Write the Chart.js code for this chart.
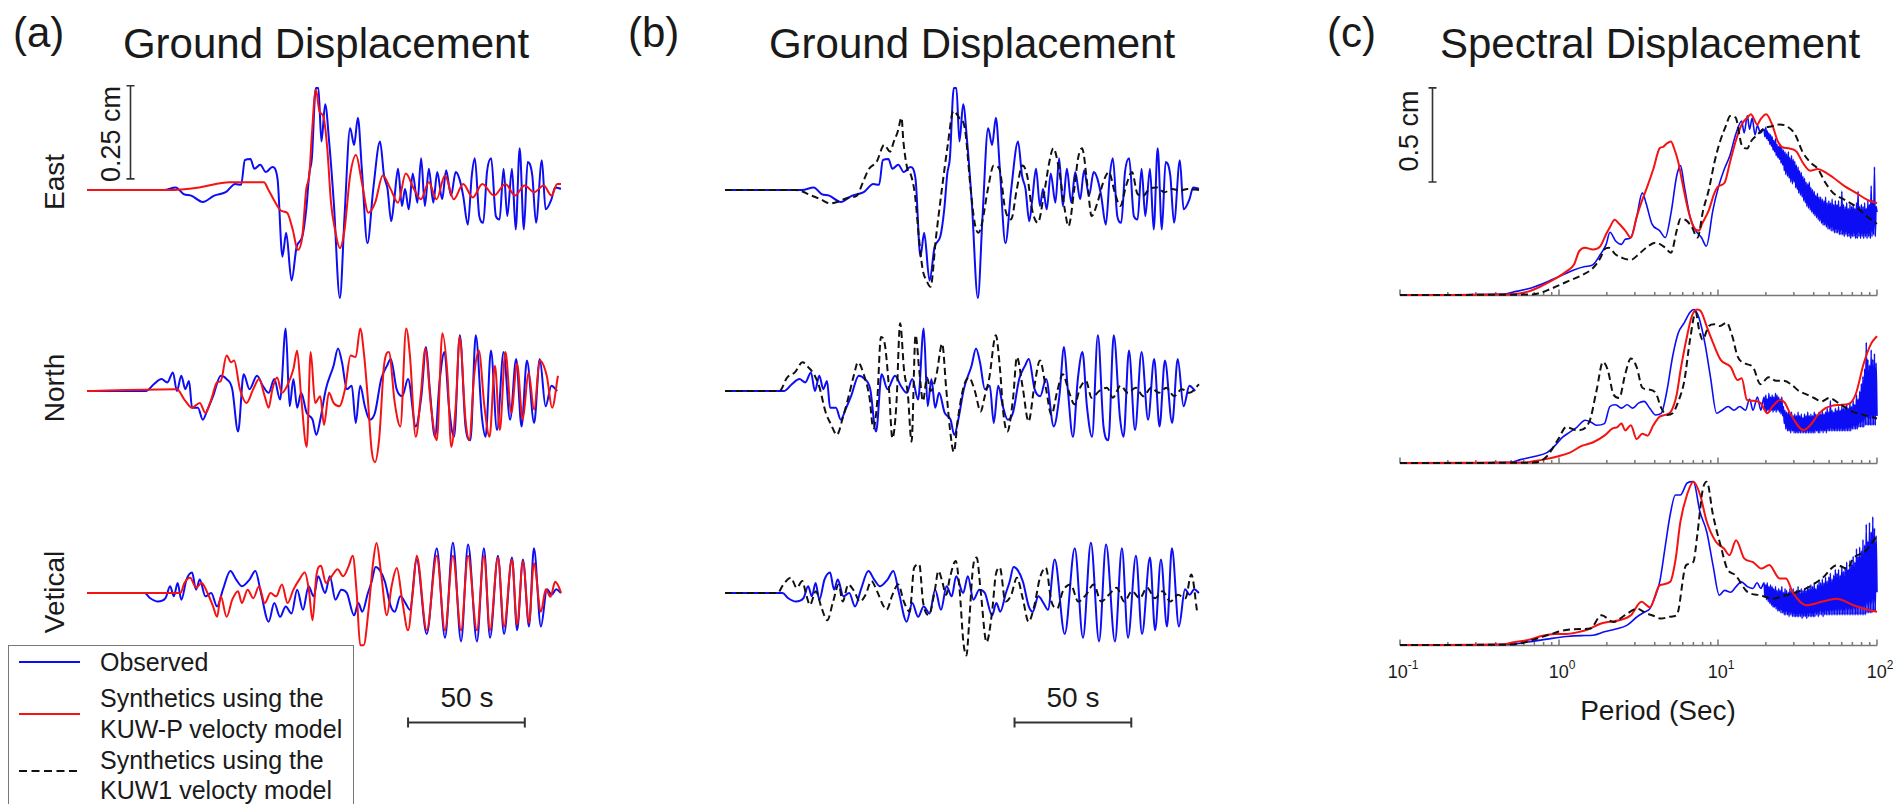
<!DOCTYPE html>
<html>
<head>
<meta charset="utf-8">
<script src="https://cdn.jsdelivr.net/npm/chart.js@4.4.1/dist/chart.umd.min.js"></script>
<style>
  body { margin: 0; background: #fff; font-family: "Liberation Sans", Arial, Helvetica, sans-serif; color: #1a1a1a; }
  #fig { position: relative; width: 1895px; height: 804px; overflow: hidden; background: #fff; }
  canvas { position: absolute; }
  .t { position: absolute; white-space: nowrap; line-height: 1; }
  .c { transform: translate(-50%, -50%); }
  .r { transform: translate(-50%, -50%) rotate(-90deg); }
  .l { transform: translateY(-50%); }
  .tick sup { font-size: 12px; position: relative; top: -2px; }
  #legend { position: absolute; left: 8px; top: 645px; width: 346px; height: 170px; border: 1.5px solid #777; box-sizing: border-box; }
</style>
</head>
<body>
<div id="fig">
  <div class="t" style="left:13px;top:12px;font-size:42px">(a)</div>
  <div class="t" style="left:628px;top:12px;font-size:42px">(b)</div>
  <div class="t" style="left:1327px;top:12px;font-size:42px">(c)</div>
  <div class="t c" style="left:326px;top:44px;font-size:42px">Ground Displacement</div>
  <div class="t c" style="left:972px;top:44px;font-size:42px">Ground Displacement</div>
  <div class="t c" style="left:1650px;top:44px;font-size:42px">Spectral Displacement</div>

  <div class="t r" style="left:55px;top:182px;font-size:28px">East</div>
  <div class="t r" style="left:55px;top:388px;font-size:28px">North</div>
  <div class="t r" style="left:55px;top:592px;font-size:28px">Vetical</div>

  <div class="t r" style="left:111px;top:134px;font-size:27px">0.25 cm</div>
  <div class="t r" style="left:1409px;top:131px;font-size:27px">0.5 cm</div>
  <div class="t c" style="left:467px;top:698px;font-size:28px">50 s</div>
  <div class="t c" style="left:1073px;top:698px;font-size:28px">50 s</div>
  <div class="t c" style="left:1658px;top:711px;font-size:28px">Period (Sec)</div>

  <div id="legend"></div>
  <svg style="position:absolute;left:0;top:0" width="400" height="804">
    <line x1="19" y1="662" x2="80" y2="662" stroke="rgb(12,12,245)" stroke-width="2"/>
    <line x1="19" y1="714" x2="80" y2="714" stroke="rgb(245,18,18)" stroke-width="2"/>
    <line x1="19" y1="771" x2="80" y2="771" stroke="#111" stroke-width="2" stroke-dasharray="8 4.5"/>
  </svg>
  <div class="t l" style="left:100px;top:662px;font-size:25px">Observed</div>
  <div class="t l" style="left:100px;top:698px;font-size:25px">Synthetics using the</div>
  <div class="t l" style="left:100px;top:729px;font-size:25px">KUW-P velocty model</div>
  <div class="t l" style="left:100px;top:760px;font-size:25px">Synthetics using the</div>
  <div class="t l" style="left:100px;top:790px;font-size:25px">KUW1 velocty model</div>
</div>

<script>
// ground displacement: [time (s), displacement (cm)]
var eastObs = [[0,0],[33,0],[38,0.007],[41.4,-0.011],[44.6,-0.015],[49.6,-0.032],[54.5,-0.015],[59.4,-0.006],[63.5,0.016],[66,0.014],[67.6,0.08],[70,0.083],[71.7,0.057],[74.2,0.068],[76.6,0.048],[79.4,0.062],[81.6,0.03],[83.7,-0.179],[85.3,-0.115],[87.6,-0.243],[89.8,-0.152],[92.2,-0.125],[93.9,-0.052],[95.2,0.044],[96.3,0.085],[98,0.274],[99.1,0.274],[100.4,0.13],[102,0.23],[103.7,0.13],[105.7,-0.034],[108.3,-0.29],[110.3,-0.07],[112.7,0.166],[114.4,0.121],[116,0.194],[117.7,0.057],[120.1,-0.143],[122.6,0.003],[125.5,0.13],[127.2,0.039],[128.7,0.003],[130.3,-0.084],[131.6,-0.025],[133.2,0.057],[134.9,-0.043],[136.2,0.003],[137.8,-0.052],[139.5,0.044],[141.5,-0.034],[143.1,0.085],[144.7,-0.043],[146.4,0.057],[148.3,-0.034],[150,0.048],[152.1,-0.025],[153.8,0.053],[155.9,-0.015],[157.9,0.048],[159.5,0.03],[161.1,-0.015],[163.1,-0.093],[164.8,0.039],[166.1,0.085],[168,-0.07],[169.7,-0.088],[171.3,0.048],[173.1,0.085],[175.1,-0.07],[176.7,-0.079],[178.4,0.057],[180,-0.07],[182,0.057],[183.6,-0.106],[185.3,0.112],[187.1,-0.106],[188.7,0.075],[190.7,0.039],[192.3,-0.088],[194.8,0.08],[196.4,-0.052],[198.9,-0.025],[200.5,0.007],[203,0.003]];
var eastKuwP = [[0,0],[35,0],[48,0.007],[61,0.021],[75.8,0.021],[77.5,0.003],[80.7,-0.034],[83.2,-0.056],[85.7,-0.061],[88.1,-0.106],[90.3,-0.161],[92.2,-0.125],[93.9,0.003],[95.2,0.039],[96.3,0.148],[98,0.27],[99.6,0.21],[101.2,0.198],[102.9,0.112],[104.5,-0.034],[106.2,-0.106],[108.3,-0.156],[110.3,-0.106],[112.7,0.039],[115.2,0.094],[117.7,0.021],[120.5,-0.061],[123.4,-0.034],[126.7,0.039],[130,0.003],[133.2,-0.034],[136.5,0.044],[140,0.003],[143,-0.025],[146.4,0.021],[149.7,-0.025],[153.3,0.039],[157.1,-0.025],[161.1,0.016],[165.2,-0.02],[169.3,0.016],[174.3,-0.015],[179.2,0.016],[183.3,-0.015],[187.4,0.012],[191.5,-0.006],[195.6,0.012],[198.9,-0.015],[201.4,0.016],[203,0.016]];
var eastKuw1 = [[0,0],[30.4,0],[37,-0.015],[41,-0.025],[45,-0.036],[49,-0.03],[53,-0.02],[56.5,-0.015],[59,0.02],[61.7,0.057],[64.9,0.075],[68.2,0.121],[70.7,0.103],[72.3,0.13],[74,0.157],[75.6,0.194],[76.4,0.13],[78.1,0.057],[79.7,0.039],[81.4,-0.015],[83,-0.125],[84.7,-0.215],[86.3,-0.243],[88,-0.26],[90.4,-0.125],[92.9,0.003],[95.4,0.121],[97.8,0.212],[100.3,0.194],[102.7,0.166],[105.2,0.003],[106.9,-0.088],[108.5,-0.115],[110.1,-0.088],[112.6,0.003],[115.1,0.066],[117.5,0.057],[120,-0.052],[122.5,-0.079],[125,0.003],[127.4,0.066],[129.4,0.039],[131.5,-0.052],[134,-0.088],[136.5,-0.015],[138.9,0.075],[140.6,0.112],[143,0.057],[145.5,-0.052],[147.1,-0.097],[149.6,0.003],[151.2,0.085],[152.9,0.112],[155.4,0.003],[157,-0.07],[159.5,-0.034],[162,0.021],[164.4,0.048],[166.9,-0.006],[169.3,-0.043],[171.8,0.012],[174.3,0.048],[176.7,-0.011],[179.2,-0.015],[181.7,0.003],[185,0.007],[188.2,-0.006],[191.5,0.003],[194.8,-0.002],[198.1,0.003],[203,0]];

var northObs = [[0,0],[25.4,0],[28.6,0.018],[31.9,0.032],[34.4,0.023],[36.8,0.05],[38.5,0],[40.4,0.041],[42.1,0.005],[43.7,0.027],[45,-0.045],[47.5,-0.045],[49.6,-0.077],[51.6,-0.05],[54,-0.014],[57.3,0.041],[59.8,0.032],[62.2,0.005],[64.7,-0.109],[67.1,0.045],[69.6,0.005],[72.8,0.041],[75.3,0.014],[77.8,-0.005],[80.2,0.032],[82.7,-0.023],[85.1,0.168],[86.8,-0.041],[88.4,0.032],[90,-0.045],[91.7,-0.005],[94.1,-0.059],[96.6,-0.077],[98.2,-0.118],[99.9,-0.077],[102.3,0.005],[105.6,0.068],[107.5,0.114],[109.2,0.077],[111.3,0.005],[113.4,0.014],[115.1,-0.086],[117,0.014],[119,-0.041],[121.1,-0.077],[123.3,-0.059],[126,0.032],[128.5,0.068],[130.1,0.086],[132.6,0.005],[135,-0.014],[137.5,0.032],[140.8,-0.095],[143.2,-0.014],[145.2,0.118],[146.8,0.005],[149,-0.123],[151.1,0.032],[153.1,0.105],[155,-0.041],[157.2,-0.123],[159.7,0.15],[162.1,-0.095],[164.2,-0.132],[166.5,0.15],[169.1,-0.068],[170.7,-0.123],[173,0.109],[175.6,-0.105],[178.4,0.105],[181.2,-0.077],[183.8,0.086],[186.1,-0.095],[188.4,0.082],[191.5,-0.086],[193.9,0.086],[196.4,-0.041],[198.9,0.014],[201.4,0]];
var northKuwP = [[0,0],[38.5,0.005],[41.7,-0.023],[45,-0.045],[48.3,-0.032],[50.7,-0.059],[53.2,-0.023],[55.7,0.023],[57.3,0.027],[59.8,0.095],[61.7,0.077],[63,0.082],[65.5,0.005],[68.3,-0.032],[71.2,0.005],[73.7,0.032],[76.1,-0.014],[77.8,-0.045],[79.4,0.005],[81.4,0.036],[83.5,-0.005],[86,0.018],[88.4,0.059],[90,0.109],[91.7,-0.014],[94.1,-0.15],[95.8,0.105],[97.7,-0.032],[99.9,-0.014],[101.5,-0.091],[103.6,-0.005],[105.6,-0.032],[108,-0.041],[110.5,0.005],[112.9,0.095],[115.1,0.091],[117,0.168],[118.7,0.095],[120.3,-0.023],[121.9,-0.159],[123.3,-0.191],[125.2,-0.123],[127.2,0.068],[129.3,0.105],[131.8,-0.032],[134.2,-0.095],[136.7,0.168],[138.3,0.095],[140.8,-0.123],[142.9,-0.014],[144.9,0.114],[147.3,-0.041],[149.8,-0.132],[152.2,0.155],[154.4,0.041],[156,-0.15],[158,-0.032],[159.6,0.145],[162.1,-0.077],[163.7,-0.132],[165.8,0.041],[167.8,0.109],[170.2,-0.041],[172.4,-0.123],[174.7,0.068],[176.8,-0.105],[179.2,0.105],[181.7,-0.059],[184.2,0.073],[186.6,-0.077],[189.1,0.05],[191.5,-0.05],[193.9,0.082],[196.9,0.041],[199.2,-0.045],[201.7,0.041]];
var northKuw1 = [[0,0],[23.3,0],[26.6,0.036],[29.9,0.05],[33.2,0.077],[35.6,0.064],[38.1,0.045],[40.5,0.009],[43,-0.055],[45.5,-0.091],[47.9,-0.118],[50.4,-0.073],[52.8,-0.018],[55.3,0.045],[56.9,0.077],[59.4,0.045],[61.9,-0.018],[63.5,-0.1],[65.1,-0.036],[66.8,0.145],[68.4,0.127],[70.1,0.018],[71.7,-0.127],[73.4,-0.036],[75,0.182],[76.7,0.055],[78.3,-0.009],[79.9,-0.136],[81.6,0.15],[83.2,0.055],[84.8,-0.027],[86.5,0.036],[88.1,0],[90.6,0.045],[93,0.127],[94.7,0.009],[96.3,-0.1],[98,-0.164],[99.6,-0.082],[102.1,0.009],[104.5,0.036],[107,0],[109.5,-0.055],[111.1,-0.018],[113.2,0.036],[116,0.15],[117.7,0.064],[119.3,-0.064],[120.9,-0.109],[123.4,-0.018],[125,0.091],[127.5,0.009],[130,-0.082],[132.4,0.009],[134.9,0.082],[137.4,0.009],[139.8,-0.064],[142.3,0],[144.7,0.045],[147.2,0],[149.7,-0.036],[152.1,0.009],[154.6,0.027],[157,-0.018],[160.3,0],[163.6,0.009],[166.1,-0.018],[169.4,0.014],[172.6,-0.005],[175.9,0.009],[179.2,-0.014],[182.5,0.009],[185.8,-0.005],[189,0.009],[192.3,-0.014],[195.6,0.005],[198.9,-0.005],[203,0.018]];

var vertObs = [[0,0],[24.6,0],[27.1,-0.014],[30.3,-0.023],[33.6,-0.014],[35.6,0.018],[37.2,-0.009],[38.8,0.027],[40.4,-0.018],[42.6,0.036],[45,0.055],[46.7,0.009],[48.3,0.036],[50.7,-0.009],[53.2,0],[55.7,-0.036],[58.2,0.009],[61.4,0.059],[63.9,0.036],[66.4,0.018],[69.6,0.036],[72.1,0.059],[74.5,0],[77.8,-0.077],[80.2,-0.027],[82.7,-0.064],[85.1,-0.036],[87.6,-0.055],[90,0.009],[92.5,-0.045],[94.9,0.018],[97.1,-0.009],[99,0.045],[102,0],[104,0.045],[106.4,-0.018],[108.9,0.009],[111.3,0],[114.4,-0.06],[116.2,-0.027],[117.9,-0.05],[120.3,0],[121.9,0.03],[123.6,0.07],[125.5,0.06],[127.6,0.03],[130.1,-0.036],[131.8,-0.05],[134.2,-0.009],[136.4,-0.027],[138.3,-0.045],[141.2,0.09],[145.5,-0.11],[149.8,0.12],[153.3,-0.12],[156.7,0.135],[160.2,-0.13],[163.2,0.13],[167,-0.13],[170,0.12],[172.6,-0.12],[176,0.1],[178.6,-0.11],[182,0.095],[184.2,-0.1],[186.7,0.09],[189.3,-0.09],[191.4,0.12],[194.4,-0.09],[197,0.01],[199,-0.005],[201,0.01],[203,0]];
var vertKuwP = [[0,0],[40,0],[41.7,0.027],[44.2,0.041],[46.7,0.014],[49.1,0.027],[51.6,0],[54,-0.036],[55.7,-0.064],[57.3,-0.009],[59.8,-0.064],[62.2,-0.018],[64.7,0.005],[66.3,-0.027],[68.8,0.009],[71.2,-0.014],[73.7,0.018],[76.1,-0.027],[78.6,0],[81,-0.009],[83.5,0.023],[85.9,-0.027],[88.4,0.009],[90.9,0.036],[93.3,0.055],[95,0.009],[96.6,-0.073],[98.2,0.045],[100.2,0.073],[102.3,0.027],[104.8,0.045],[107.3,0.064],[109.7,0.045],[112.1,0.073],[113.8,0.1],[115.5,0],[117,-0.14],[118.5,-0.14],[120.5,-0.05],[122.5,0.08],[124,0.134],[126,0.05],[128.4,-0.06],[130.5,0.02],[132.7,0.067],[135,-0.02],[137.5,-0.1],[139.5,0],[141.2,0.1],[145.5,-0.1],[149.8,0.1],[153.3,-0.1],[156.7,0.1],[160.2,-0.1],[163.2,0.1],[167,-0.1],[170,0.1],[172.6,-0.1],[176,0.095],[178.6,-0.09],[182,0.09],[184.2,-0.085],[186.7,0.085],[189.3,-0.08],[191.4,0.08],[194.4,-0.05],[196.5,0.01],[198.5,-0.01],[200.5,0.03],[202.5,0.01],[203,0]];
var vertKuw1 = [[0,0],[22.5,0],[25,0.023],[28.2,0.041],[30.7,0.014],[33.1,0.032],[34.8,-0.005],[36.4,-0.032],[38.9,0.005],[41.4,-0.041],[43.8,-0.073],[46.3,-0.023],[48.7,0.023],[50.4,-0.023],[52.8,0.023],[55.3,0.005],[57.8,-0.023],[60.2,-0.005],[62.7,0.032],[65.1,0.005],[67.6,-0.032],[69.2,-0.045],[71.7,-0.005],[74.2,0.023],[76.6,-0.023],[79.1,-0.05],[81,0.068],[83.2,0.077],[84.8,-0.023],[87.3,-0.059],[89.8,0.005],[91.4,0.059],[93,0.032],[94.7,-0.005],[96.3,0.041],[98.8,0.086],[100.4,0.014],[102.1,-0.132],[103.4,-0.168],[104.5,-0.086],[106.2,0.068],[107.8,0.095],[109.5,0.005],[112,-0.132],[114.4,-0.05],[116,0.05],[117.7,0.068],[120.1,-0.023],[122.6,-0.005],[125,0.041],[127.5,-0.014],[130,-0.077],[132.4,-0.036],[134.9,0.041],[137.4,0.068],[139.8,-0.023],[142.3,-0.041],[144.7,0.005],[148,0.023],[151.3,-0.023],[154.6,-0.005],[157.9,0.023],[161.1,-0.023],[164.4,-0.005],[167.7,0.014],[171,-0.023],[174.3,0.005],[177.6,-0.014],[180.8,0.014],[184.1,-0.014],[187.4,0.005],[190.7,-0.023],[194,-0.005],[197.2,-0.014],[199.7,0.05],[202.2,-0.05]];

// spectral displacement: [period (s), amplitude (cm)]
var specEastObs = [[0.1,0],[0.45,0.005],[0.51,0.015],[0.64,0.033],[0.79,0.06],[0.99,0.096],[1.24,0.133],[1.46,0.151],[1.63,0.16],[1.82,0.215],[1.98,0.269],[2.09,0.333],[2.27,0.287],[2.47,0.269],[2.61,0.296],[2.83,0.305],[3.08,0.415],[3.34,0.542],[3.53,0.487],[3.84,0.378],[4.29,0.342],[4.66,0.305],[5.06,0.433],[5.5,0.633],[5.81,0.687],[6.14,0.578],[6.67,0.415],[7.24,0.342],[7.87,0.305],[8.45,0.26],[9.29,0.451],[10.1,0.578],[10.96,0.669],[11.9,0.742],[12.9,0.851],[14.1,0.924],[14.6,0.86],[15.3,0.951],[15.8,0.88],[16.4,0.94],[17.1,0.85],[17.7,0.9],[18.5,0.86]];
var specEastKuwP = [[0.1,0],[0.5,0.004],[0.64,0.018],[0.79,0.051],[0.99,0.096],[1.11,0.124],[1.24,0.16],[1.34,0.233],[1.46,0.251],[1.63,0.242],[1.82,0.26],[1.98,0.324],[2.09,0.36],[2.24,0.4],[2.39,0.378],[2.61,0.342],[2.83,0.305],[3.08,0.415],[3.34,0.505],[3.6,0.578],[3.92,0.669],[4.29,0.778],[4.52,0.787],[4.77,0.805],[5.06,0.815],[5.3,0.778],[5.63,0.705],[5.97,0.596],[6.49,0.451],[7.03,0.36],[7.6,0.342],[7.94,0.378],[8.76,0.451],[9.5,0.542],[10.1,0.578],[11,0.596],[11.9,0.705],[12.9,0.815],[14.1,0.905],[15.3,0.942],[16.1,0.96],[17.7,0.905],[18.5,0.933],[20.1,0.96],[21.9,0.905],[23.8,0.815],[25.2,0.787],[28.2,0.778],[31.3,0.76],[34,0.705],[38,0.66],[42.5,0.669],[47.4,0.651],[53,0.624],[62.5,0.578],[73.8,0.542],[87,0.505],[100,0.487]];
var specEastKuw1 = [[0.1,0],[0.6,0.002],[0.71,0.005],[0.89,0.033],[1.11,0.069],[1.39,0.105],[1.63,0.142],[1.82,0.196],[1.93,0.242],[2.06,0.251],[2.27,0.215],[2.52,0.196],[2.83,0.187],[3.16,0.215],[3.53,0.251],[4.05,0.278],[4.66,0.251],[5.06,0.224],[5.5,0.342],[5.81,0.405],[6.32,0.396],[6.85,0.36],[7.43,0.305],[8.07,0.451],[8.76,0.56],[9.5,0.705],[10.3,0.815],[11.3,0.905],[11.9,0.951],[12.9,0.942],[14.1,0.796],[15.3,0.778],[16.1,0.815],[17.7,0.851],[19.6,0.887],[21.9,0.896],[24.2,0.905],[27.1,0.896],[30.6,0.851],[34,0.76],[38,0.705],[42.5,0.669],[47.4,0.596],[53,0.542],[62.5,0.505],[73.8,0.469],[87,0.415],[100,0.378]];

var specNorthObs = [[0.1,0],[0.5,0.004],[0.57,0.018],[0.71,0.036],[0.84,0.055],[0.94,0.091],[1.05,0.136],[1.17,0.164],[1.3,0.191],[1.46,0.227],[1.58,0.218],[1.72,0.2],[1.93,0.209],[2.09,0.3],[2.27,0.309],[2.47,0.291],[2.68,0.309],[2.91,0.291],[3.16,0.318],[3.43,0.327],[3.72,0.291],[4.05,0.255],[4.4,0.264],[4.77,0.382],[5.18,0.564],[5.63,0.691],[6.14,0.745],[6.67,0.8],[7.05,0.815],[7.6,0.77],[8.27,0.636],[8.97,0.455],[9.8,0.264],[10.6,0.28],[11.6,0.3],[12.6,0.28],[13.7,0.3],[14.9,0.28],[15.8,0.34],[16.6,0.28],[17.7,0.35],[18.6,0.28]];
var specNorthKuwP = [[0.1,0],[0.6,0.002],[0.79,0.018],[0.99,0.036],[1.17,0.055],[1.39,0.091],[1.63,0.109],[1.93,0.145],[2.16,0.182],[2.33,0.191],[2.47,0.209],[2.61,0.173],[2.83,0.2],[3.08,0.127],[3.34,0.155],[3.6,0.145],[3.92,0.2],[4.29,0.245],[4.66,0.255],[5.06,0.273],[5.5,0.364],[5.81,0.491],[6.32,0.655],[6.85,0.78],[7.4,0.815],[7.87,0.8],[8.53,0.72],[9.28,0.64],[10.4,0.547],[12,0.51],[13.3,0.44],[14.1,0.45],[15.2,0.335],[16.6,0.33],[18.6,0.317],[20.4,0.264],[22,0.3],[24.6,0.335],[26.3,0.32],[28.4,0.264],[34.5,0.175],[38,0.2],[42.5,0.255],[47.4,0.291],[53,0.305],[58.5,0.308],[67.6,0.317],[73.8,0.37],[82.4,0.527],[92.2,0.636],[100,0.673]];
var specNorthKuw1 = [[0.1,0],[0.7,0.002],[0.84,0.036],[0.99,0.127],[1.11,0.191],[1.3,0.173],[1.55,0.218],[1.72,0.382],[1.89,0.536],[2.03,0.491],[2.2,0.364],[2.39,0.345],[2.61,0.473],[2.83,0.555],[3.08,0.509],[3.34,0.4],[3.6,0.391],[4.05,0.373],[4.4,0.291],[4.77,0.255],[5.18,0.264],[5.63,0.327],[6.14,0.436],[6.67,0.655],[7.24,0.8],[7.6,0.709],[8,0.655],[8.76,0.727],[9.5,0.736],[10.3,0.727],[11.3,0.745],[12.3,0.673],[13.3,0.564],[14.9,0.527],[16.6,0.509],[18.5,0.418],[20.8,0.455],[23.2,0.436],[25.8,0.436],[28.8,0.418],[32.3,0.382],[36,0.364],[40.2,0.345],[44.9,0.327],[50.1,0.345],[59.2,0.309],[70,0.273],[82.4,0.255],[100,0.236]];

var specVertObs = [[0.1,0],[0.48,0.004],[0.64,0.016],[0.84,0.031],[1.11,0.045],[1.39,0.05],[1.64,0.052],[1.93,0.07],[2.27,0.085],[2.67,0.104],[3.1,0.15],[3.45,0.175],[3.73,0.193],[3.95,0.24],[4.3,0.335],[4.65,0.52],[5,0.69],[5.4,0.796],[5.8,0.796],[6.4,0.86],[7,0.867],[7.7,0.707],[8.5,0.6],[9.3,0.424],[10.2,0.264],[11,0.29],[12,0.28],[13,0.31],[14,0.335],[15.3,0.31],[16.6,0.3],[17.6,0.33],[18.6,0.3]];
var specVertKuwP = [[0.1,0],[0.45,0.004],[0.51,0.013],[0.64,0.027],[0.79,0.049],[0.94,0.058],[1.11,0.058],[1.3,0.067],[1.55,0.085],[1.82,0.113],[2.03,0.122],[2.39,0.131],[2.83,0.158],[3.3,0.229],[3.73,0.2],[4.3,0.317],[5,0.335],[5.4,0.45],[5.8,0.654],[6.4,0.8],[7,0.867],[7.7,0.8],[8.5,0.654],[9.7,0.548],[10.9,0.512],[11.8,0.477],[13,0.556],[14.6,0.46],[16.6,0.44],[18.7,0.406],[21,0.424],[24.4,0.353],[26.8,0.353],[29.4,0.282],[35.8,0.211],[45,0.229],[56,0.246],[71,0.211],[85,0.19],[100,0.176]];
var specVertKuw1 = [[0.1,0],[0.5,0.002],[0.57,0.009],[0.71,0.031],[0.89,0.058],[1.11,0.08],[1.35,0.085],[1.57,0.087],[1.85,0.158],[2.2,0.122],[2.6,0.158],[3.1,0.193],[3.5,0.17],[3.85,0.158],[4.4,0.14],[5,0.15],[5.5,0.158],[6.3,0.424],[7,0.441],[7.4,0.58],[8,0.82],[8.5,0.867],[9.3,0.69],[10.5,0.512],[11.4,0.406],[12.9,0.37],[15.3,0.282],[18.5,0.264],[22,0.246],[26.8,0.264],[35.8,0.3],[45,0.353],[56,0.424],[65,0.406],[71,0.46],[85,0.5],[100,0.58]];

// long-period part of the observed spectra, read as a dense noisy band
var bandPeriods = [
  19.5,19.7,20.0,20.2,20.4,20.7,20.9,21.2,21.4,21.7,
  21.9,22.2,22.4,22.7,23.0,23.2,23.5,23.8,24.1,24.3,
  24.6,24.9,25.2,25.5,25.8,26.1,26.4,26.7,27.0,27.4,
  27.7,28.0,28.3,28.7,29.0,29.4,29.7,30.1,30.4,30.8,
  31.1,31.5,31.9,32.2,32.6,33.0,33.4,33.8,34.2,34.6,
  35.0,35.4,35.8,36.2,36.7,37.1,37.5,38.0,38.4,38.9,
  39.3,39.8,40.3,40.7,41.2,41.7,42.2,42.7,43.2,43.7,
  44.2,44.8,45.3,45.8,46.4,46.9,47.5,48.0,48.6,49.2,
  49.8,50.3,50.9,51.5,52.2,52.8,53.4,54.0,54.7,55.3,
  56.0,56.6,57.3,58.0,58.7,59.4,60.1,60.8,61.5,62.2,
  63.0,63.7,64.5,65.2,66.0,66.8,67.6,68.4,69.2,70.0,
  70.8,71.7,72.5,73.4,74.3,75.1,76.0,76.9,77.8,78.8,
  79.7,80.7,81.6,82.6,83.6,84.6,85.6,86.6,87.6,88.7,
  89.7,90.8,91.9,93.0,94.1,95.2,96.4,97.5,98.7,100];
var bandEastObs = [
  0.88,0.84,0.89,0.83,0.87,0.82,0.86,0.8,0.85,0.79,
  0.84,0.77,0.82,0.76,0.83,0.74,0.8,0.73,0.79,0.72,
  0.8,0.7,0.78,0.69,0.77,0.66,0.76,0.64,0.75,0.63,
  0.76,0.62,0.73,0.6,0.74,0.59,0.72,0.6,0.71,0.57,
  0.69,0.56,0.68,0.54,0.66,0.53,0.65,0.52,0.63,0.5,
  0.62,0.49,0.6,0.47,0.59,0.46,0.6,0.45,0.57,0.44,
  0.56,0.43,0.55,0.42,0.53,0.41,0.54,0.4,0.52,0.39,
  0.52,0.38,0.51,0.37,0.5,0.37,0.52,0.36,0.49,0.35,
  0.5,0.35,0.49,0.34,0.51,0.34,0.48,0.33,0.5,0.33,
  0.48,0.33,0.5,0.32,0.47,0.32,0.55,0.32,0.48,0.31,
  0.47,0.32,0.49,0.31,0.46,0.31,0.48,0.3,0.47,0.31,
  0.48,0.31,0.46,0.3,0.49,0.3,0.55,0.31,0.47,0.3,
  0.48,0.31,0.47,0.3,0.49,0.31,0.46,0.3,0.5,0.31,
  0.48,0.3,0.58,0.31,0.5,0.32,0.68,0.31,0.47,0.44];
var bandNorthObs = [
  0.35,0.28,0.36,0.27,0.34,0.28,0.37,0.27,0.35,0.28,
  0.36,0.27,0.35,0.28,0.37,0.27,0.36,0.28,0.35,0.27,
  0.34,0.26,0.35,0.25,0.3,0.21,0.28,0.18,0.27,0.17,
  0.27,0.17,0.26,0.16,0.27,0.17,0.25,0.16,0.26,0.16,
  0.25,0.16,0.27,0.16,0.25,0.16,0.26,0.16,0.24,0.16,
  0.26,0.16,0.25,0.16,0.27,0.16,0.25,0.16,0.26,0.16,
  0.25,0.16,0.27,0.16,0.26,0.17,0.25,0.16,0.27,0.16,
  0.26,0.17,0.28,0.16,0.26,0.17,0.27,0.16,0.29,0.17,
  0.27,0.17,0.33,0.17,0.28,0.17,0.27,0.17,0.29,0.17,
  0.28,0.17,0.3,0.17,0.28,0.17,0.3,0.17,0.29,0.17,
  0.3,0.17,0.31,0.17,0.29,0.17,0.32,0.17,0.3,0.18,
  0.33,0.18,0.31,0.18,0.36,0.18,0.34,0.19,0.38,0.19,
  0.42,0.19,0.46,0.19,0.5,0.2,0.64,0.2,0.55,0.2,
  0.52,0.2,0.6,0.2,0.55,0.2,0.58,0.2,0.53,0.25];
var bandVertObs = [
  0.33,0.26,0.32,0.24,0.33,0.23,0.31,0.22,0.32,0.21,
  0.31,0.2,0.3,0.2,0.31,0.19,0.29,0.18,0.3,0.18,
  0.29,0.17,0.31,0.17,0.28,0.16,0.3,0.16,0.29,0.16,
  0.28,0.15,0.3,0.16,0.29,0.15,0.3,0.15,0.28,0.15,
  0.29,0.15,0.31,0.15,0.28,0.15,0.3,0.14,0.29,0.15,
  0.3,0.15,0.29,0.14,0.31,0.15,0.3,0.15,0.32,0.15,
  0.31,0.15,0.33,0.15,0.3,0.16,0.32,0.15,0.34,0.16,
  0.33,0.16,0.35,0.15,0.33,0.16,0.36,0.16,0.34,0.16,
  0.36,0.16,0.38,0.16,0.35,0.16,0.37,0.16,0.4,0.16,
  0.38,0.16,0.4,0.16,0.37,0.16,0.42,0.16,0.39,0.16,
  0.41,0.16,0.44,0.16,0.4,0.16,0.45,0.16,0.43,0.16,
  0.47,0.16,0.44,0.16,0.51,0.16,0.47,0.16,0.52,0.16,
  0.5,0.16,0.56,0.16,0.53,0.16,0.64,0.17,0.55,0.17,
  0.65,0.17,0.6,0.17,0.68,0.18,0.62,0.18,0.58,0.28];

var periodDecades = [0.1, 1, 10, 100];
var decadeLabels = ['-1', '0', '1', '2'];

// layout
var fig = document.getElementById('fig');
var ppcTrace = 372, ppcSpec = 188;   // px per cm
var traceR = 0.4, tMax = 203;
var colLeft = [87, 725], traceW = 474;
var rowBase = [190, 391, 593];
var specLeft = 1400, specW = 477;
var specBase = [295, 463, 645];
var specMax = [1.2, 0.95, 0.95];

var obsStyle = { borderColor: 'rgb(12,12,245)', borderWidth: 2, order: 2 };
var kuwpStyle = { borderColor: 'rgb(245,18,18)', borderWidth: 2, order: 1 };
var kuw1Style = { borderColor: '#111', borderWidth: 2, borderDash: [7, 4], order: 0 };

function ds(data, style) {
  return Object.assign({ data: data, pointRadius: 0, fill: false, cubicInterpolationMode: 'monotone', clip: false }, style);
}

function withBand(smooth, band) {
  return smooth.concat(bandPeriods.map(function (p, i) { return [p, band[i]]; }));
}

function addCanvas(left, top, w, h) {
  var c = document.createElement('canvas');
  c.width = Math.round(w);
  c.height = Math.round(h);
  c.style.left = Math.round(left) + 'px';
  c.style.top = Math.round(top) + 'px';
  fig.appendChild(c);
  return c;
}

// scale bars drawn on the chart scales
function barPlugin(bars) {
  return {
    id: 'bars',
    afterDatasetsDraw: function (chart) {
      var ctx = chart.ctx, x = chart.scales.x, y = chart.scales.y;
      ctx.save();
      ctx.strokeStyle = '#333';
      ctx.lineWidth = 1.6;
      (bars.v || []).forEach(function (b) {
        var px = Math.round(x.getPixelForValue(b.at)) + 0.5;
        var y0 = y.getPixelForValue(b.from), y1 = y.getPixelForValue(b.to);
        ctx.beginPath();
        ctx.moveTo(px, y0); ctx.lineTo(px, y1);
        ctx.moveTo(px - 4, y0); ctx.lineTo(px + 4, y0);
        ctx.moveTo(px - 4, y1); ctx.lineTo(px + 4, y1);
        ctx.stroke();
      });
      (bars.h || []).forEach(function (b) {
        var py = Math.round(y.getPixelForValue(b.at)) + 0.5;
        var x0 = x.getPixelForValue(b.from), x1 = x.getPixelForValue(b.to);
        ctx.lineWidth = 2;
        ctx.beginPath();
        ctx.moveTo(x0, py); ctx.lineTo(x1, py);
        ctx.moveTo(x0, py - 5); ctx.lineTo(x0, py + 5);
        ctx.moveTo(x1, py - 5); ctx.lineTo(x1, py + 5);
        ctx.stroke();
      });
      ctx.restore();
    }
  };
}

// log period axis with inward ticks
var periodAxis = {
  id: 'periodAxis',
  beforeDatasetsDraw: function (chart) {
    var ctx = chart.ctx, x = chart.scales.x, y = chart.scales.y;
    var py = Math.round(y.getPixelForValue(0)) + 0.5;
    ctx.save();
    ctx.strokeStyle = '#777';
    ctx.lineWidth = 1.5;
    ctx.beginPath();
    ctx.moveTo(x.getPixelForValue(0.1), py);
    ctx.lineTo(x.getPixelForValue(100), py);
    periodDecades.forEach(function (d, i) {
      var px = x.getPixelForValue(d);
      ctx.moveTo(px, py); ctx.lineTo(px, py - 6);
      if (i < periodDecades.length - 1) {
        for (var m = 2; m <= 9; m++) {
          var mx = x.getPixelForValue(d * m);
          ctx.moveTo(mx, py); ctx.lineTo(mx, py - 3.5);
        }
      }
    });
    ctx.stroke();
    ctx.restore();
  }
};

function baseOptions(pad, xScale, yMin, yMax) {
  return {
    responsive: false,
    animation: false,
    events: [],
    layout: { padding: pad },
    plugins: { legend: { display: false }, tooltip: { enabled: false } },
    scales: { x: xScale, y: { type: 'linear', min: yMin, max: yMax, display: false } }
  };
}

function traceChart(col, row, sets, bars) {
  var pad = 8, h = 2 * traceR * ppcTrace;
  var c = addCanvas(colLeft[col] - pad, rowBase[row] - h / 2 - pad, traceW + 2 * pad, h + 2 * pad);
  return new Chart(c, {
    type: 'line',
    data: { datasets: sets },
    options: baseOptions(pad, { type: 'linear', min: 0, max: tMax, display: false }, -traceR, traceR),
    plugins: [barPlugin(bars || {})]
  });
}

function specChart(row, sets, bars) {
  var pad = { left: 20, right: 20, top: 8, bottom: 10 };
  var h = specMax[row] * ppcSpec;
  var c = addCanvas(specLeft - pad.left, specBase[row] - h - pad.top, specW + pad.left + pad.right, h + pad.top + pad.bottom);
  return new Chart(c, {
    type: 'line',
    data: { datasets: sets },
    options: baseOptions(pad, { type: 'logarithmic', min: 0.1, max: 100, display: false }, 0, specMax[row]),
    plugins: [periodAxis, barPlugin(bars || {})]
  });
}

// (a) observed vs KUW-P
traceChart(0, 0, [ds(eastObs, obsStyle), ds(eastKuwP, kuwpStyle)], { v: [{ at: 18.4, from: 0.03, to: 0.28 }] });
traceChart(0, 1, [ds(northObs, obsStyle), ds(northKuwP, kuwpStyle)]);
traceChart(0, 2, [ds(vertObs, obsStyle), ds(vertKuwP, kuwpStyle)], { h: [{ at: -0.345, from: 137.5, to: 187.5 }] });

// (b) observed vs KUW1
traceChart(1, 0, [ds(eastObs, obsStyle), ds(eastKuw1, kuw1Style)]);
traceChart(1, 1, [ds(northObs, obsStyle), ds(northKuw1, kuw1Style)]);
traceChart(1, 2, [ds(vertObs, obsStyle), ds(vertKuw1, kuw1Style)], { h: [{ at: -0.345, from: 124, to: 174 }] });

// (c) spectra
var bandStyle = Object.assign({}, obsStyle, { borderWidth: 1.6 });
specChart(0, [ds(withBand(specEastObs, bandEastObs), bandStyle), ds(specEastKuwP, kuwpStyle), ds(specEastKuw1, kuw1Style)], { v: [{ at: 0.158, from: 0.6, to: 1.1 }] });
specChart(1, [ds(withBand(specNorthObs, bandNorthObs), bandStyle), ds(specNorthKuwP, kuwpStyle), ds(specNorthKuw1, kuw1Style)]);
var bottomSpec = specChart(2, [ds(withBand(specVertObs, bandVertObs), bandStyle), ds(specVertKuwP, kuwpStyle), ds(specVertKuw1, kuw1Style)]);

// decade labels under the bottom spectrum
var cLeft = parseFloat(bottomSpec.canvas.style.left);
periodDecades.forEach(function (d, i) {
  var el = document.createElement('div');
  el.className = 't c tick';
  el.style.fontSize = '18px';
  el.style.left = (cLeft + bottomSpec.scales.x.getPixelForValue(d) + 3) + 'px';
  el.style.top = '671px';
  el.innerHTML = '10<sup>' + decadeLabels[i] + '</sup>';
  fig.appendChild(el);
});
</script>
</body>
</html>
